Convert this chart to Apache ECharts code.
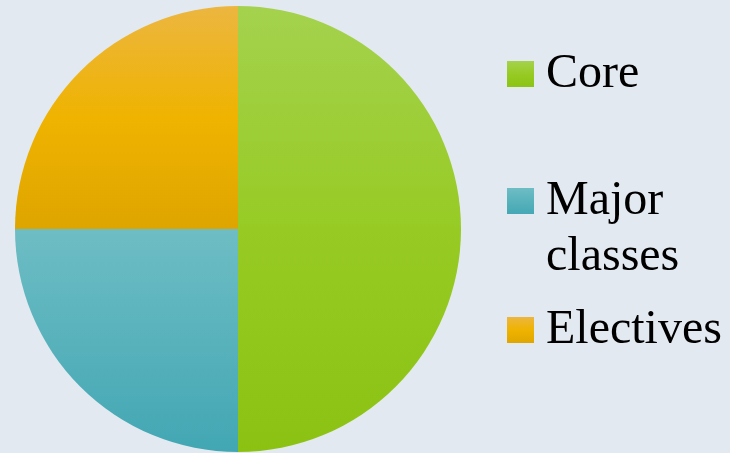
<!DOCTYPE html>
<html>
<head>
<meta charset="utf-8">
<script src="https://cdn.jsdelivr.net/npm/echarts@6/dist/echarts.min.js"></script>
<style>
html,body{margin:0;padding:0;background:#e3e9f0;}
#c{width:730px;height:453px;}
</style>
</head>
<body>
<div id="c"></div>
<script>
var categories = ['Core', 'Major classes', 'Electives'];
var values = [50, 25, 25];
var legendLabels = ['{t|Core}', '{p| }\n{t|Major}\n{t|classes}', '{t|Electives}'];

function grad(c1, c2, c3) {
  return new echarts.graphic.LinearGradient(0, 0, 0, 1, [
    {offset: 0, color: c1}, {offset: 0.5, color: c2}, {offset: 1, color: c3}
  ]);
}
var pieColors = [
  grad('#a4d24e', '#97cb24', '#8bc212'),
  grad('#6ebdc4', '#58b2bc', '#42a7b3'),
  grad('#ecb640', '#efb300', '#dea500')
];
var iconColors = [
  grad('#a4d24e', '#97cb24', '#8bc414'),
  grad('#6ebdc4', '#58b2bc', '#44a8b4'),
  grad('#ecb640', '#efb300', '#e0a600')
];

var chart = echarts.init(document.getElementById('c'));
var legendTops = [50, 140, 306];
var legends = categories.map(function (name, i) {
  return {
    left: 507,
    top: legendTops[i],
    padding: 0,
    icon: 'rect',
    itemWidth: 27,
    itemHeight: 26,
    selectedMode: false,
    formatter: function () { return legendLabels[i]; },
    textStyle: {
      fontFamily: 'Liberation Serif', fontSize: 48, color: '#000',
      rich: {
        t: {fontFamily: 'Liberation Serif', fontSize: 48, color: '#000', lineHeight: 56, padding: [0, 0, 0, 7]},
        p: {fontSize: 10, lineHeight: 56}
      }
    },
    data: [{name: name, itemStyle: {color: iconColors[i]}}]
  };
});

chart.setOption({
  backgroundColor: '#e3e9f0',
  animation: false,
  legend: legends,
  series: [{
    type: 'pie',
    center: [238, 229],
    radius: 223,
    startAngle: 90,
    clockwise: true,
    label: {show: false},
    labelLine: {show: false},
    emphasis: {disabled: true},
    data: categories.map(function (n, i) {
      return {name: n, value: values[i], itemStyle: {color: pieColors[i]}};
    })
  }]
});
</script>
</body>
</html>
